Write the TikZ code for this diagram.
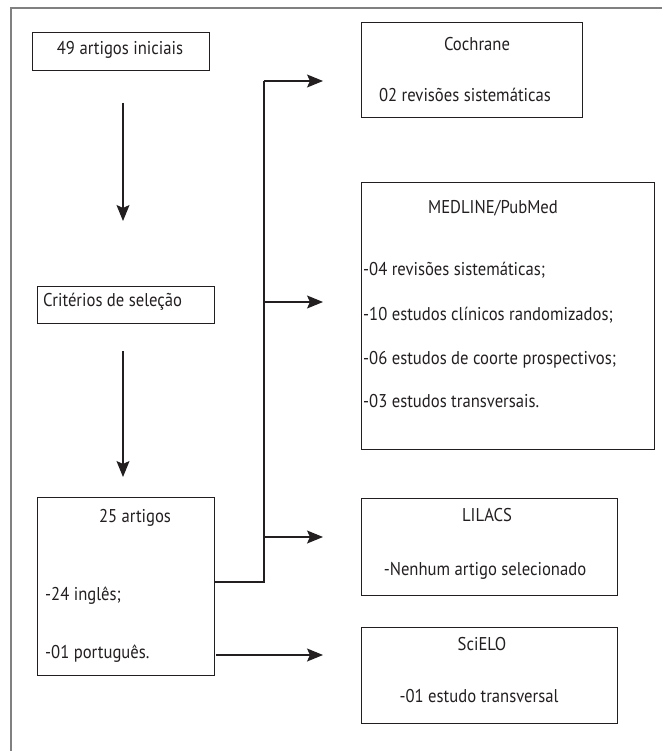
\documentclass[tikz,border=0pt]{standalone}
\usepackage{fontspec}
\setmainfont[FakeStretch=0.9]{PT Sans}
\usetikzlibrary{arrows.meta}
\definecolor{ink}{HTML}{231F20}
\begin{document}
\begin{tikzpicture}[x=1pt,y=-1pt,
  box/.style={draw=ink, line width=1.2pt, anchor=north west, inner sep=0},
  txt/.style={font=\fontsize{18.5}{22}\selectfont, inner sep=0, text=ink},
  arr/.style={draw=ink, line width=1.2pt, -{Stealth[length=16pt,width=13pt,inset=3pt]}},
  conn/.style={draw=ink, line width=1.2pt}]
\useasboundingbox (0,0) rectangle (662,751);
\draw[gray, line width=1.5pt] (11,751) -- (11,8) -- (662,8);

% left column boxes
\node[box, minimum width=177pt, minimum height=38pt] (b1) at (32,32) {};
\node[box, minimum width=177pt, minimum height=37pt] (b2) at (37,286) {};
\node[box, minimum width=177pt, minimum height=178pt] (b3) at (37,497) {};

% right column boxes
\node[box, minimum width=221pt, minimum height=95pt] (c) at (361,22) {};
\node[box, minimum width=293pt, minimum height=267pt] (m) at (361,182) {};
\node[box, minimum width=256pt, minimum height=97pt] (l) at (361,498) {};
\node[box, minimum width=256pt, minimum height=96pt] (s) at (361,627) {};

% texts
\node[txt, anchor=mid] (t1) at (120,52) {49 artigos iniciais};
\node[txt, anchor=mid west] (t2) at (43,304) {Critérios de seleção};
\node[txt, anchor=mid] (t3) at (135,520) {25 artigos};
\node[txt, anchor=mid west] (t4) at (45,598) {-24 inglês;};
\node[txt, anchor=mid west] (t5) at (45,656) {-01 português.};

\node[txt, anchor=mid] (c1) at (477,48) {Cochrane};
\node[txt, anchor=mid] (c2) at (465,99) {02 revisões sistemáticas};

\node[txt, anchor=mid] (m0) at (493,211) {MEDLINE/PubMed};
\node[txt, anchor=mid west] (m1) at (363,273) {-04 revisões sistemáticas;};
\node[txt, anchor=mid west] (m2) at (363,318) {-10 estudos clínicos randomizados;};
\node[txt, anchor=mid west] (m3) at (363,362) {-06 estudos de coorte prospectivos;};
\node[txt, anchor=mid west] (m4) at (363,405) {-03 estudos transversais.};

\node[txt, anchor=mid] (l1) at (487,519) {LILACS};
\node[txt, anchor=mid] (l2) at (485,573) {-Nenhum artigo selecionado};

\node[txt, anchor=mid] (s1) at (482,648) {SciELO};
\node[txt, anchor=mid] (s2) at (479,700) {-01 estudo transversal};

% vertical arrows
\coordinate (a1s) at (123,103);
\coordinate (a1e) at (123,221);
\coordinate (a2s) at (123,351);
\coordinate (a2e) at (123,477);
\draw[arr] (a1s) -- (a1e);
\draw[arr] (a2s) -- (a2e);

% branching connector
\coordinate (j) at (264,582);
\coordinate (jt) at (264,81);
\coordinate (tc) at (323,81);
\coordinate (jm) at (264,302);
\coordinate (tm) at (323,302);
\coordinate (jl) at (264,537);
\coordinate (tl) at (323,537);
\coordinate (ps) at (216,655);
\coordinate (ts) at (323,655);
\draw[conn] (b3.east |- j) -- (j) -- (jt);
\draw[arr] (jt) -- (tc);
\draw[arr] (jm) -- (tm);
\draw[arr] (jl) -- (tl);
\draw[arr] (ps) -- (ts);
\end{tikzpicture}
\end{document}
